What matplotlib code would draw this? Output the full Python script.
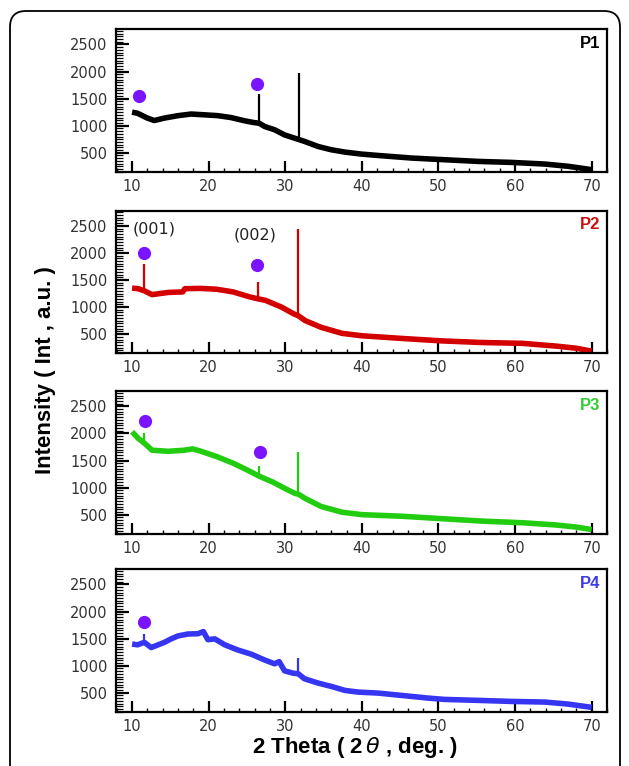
import numpy as np
import matplotlib.pyplot as plt
from matplotlib.patches import FancyBboxPatch
from matplotlib.ticker import MultipleLocator

# XRD traces (2theta in deg, intensity in a.u.), broad background of each sample
tt_p1 = [10.0, 10.7, 12.0, 12.9, 14.2, 16.0, 17.7, 19.5, 21.2, 22.9, 24.7, 25.8, 26.6,
         27.3, 28.6, 29.9, 31.2, 31.75, 32.5, 34.3, 36.0, 37.8, 39.9, 42.1, 46.5, 50.8,
         55.2, 59.5, 63.9, 66.9, 69.1, 70.0]
int_p1 = [1250, 1230, 1140, 1095, 1140, 1185, 1215, 1200, 1185, 1150, 1090, 1060, 1045,
          985, 925, 830, 770, 745, 710, 615, 555, 512, 476, 450, 402, 371,
          340, 322, 291, 250, 206, 187]

tt_p2 = [10.0, 10.8, 11.6, 12.6, 14.7, 16.6, 16.9, 18.9, 21.0, 23.2, 25.3, 26.5, 27.4,
         29.5, 31.1, 31.7, 32.6, 34.7, 37.4, 40.0, 45.3, 50.5, 55.8, 61.0, 65.3, 68.0,
         70.0]
int_p2 = [1350, 1340, 1300, 1230, 1270, 1280, 1340, 1345, 1330, 1280, 1190, 1150, 1125,
          1000, 875, 840, 750, 625, 515, 470, 420, 375, 345, 330, 280, 240,
          185]

tt_p3 = [10.0, 10.8, 11.6, 12.6, 14.7, 16.8, 17.9, 18.9, 21.0, 23.2, 25.3, 26.6, 28.4,
         30.0, 31.3, 31.7, 32.6, 34.7, 37.4, 40.0, 45.3, 50.5, 55.8, 61.0, 65.3, 68.0,
         70.0]
int_p3 = [2030, 1910, 1820, 1690, 1670, 1690, 1715, 1675, 1575, 1450, 1305, 1210, 1100,
          980, 890, 880, 800, 650, 545, 500, 470, 425, 380, 350, 310, 270,
          225]

tt_p4 = [10.0, 10.7, 11.6, 12.5, 13.4, 14.2, 15.1, 16.0, 17.3, 18.6, 19.3, 19.9, 20.8,
         22.1, 23.8, 25.6, 27.3, 28.6, 29.2, 29.9, 31.0, 31.7, 32.5, 34.3, 36.0, 37.8,
         39.5, 42.1, 44.3, 46.5, 48.6, 50.8, 55.2, 59.5, 63.9, 66.9, 69.1, 70.0]
int_p4 = [1400, 1385, 1430, 1335, 1385, 1430, 1495, 1550, 1585, 1590, 1630, 1480, 1495,
          1385, 1290, 1210, 1105, 1035, 1075, 905, 862, 850, 758, 678, 617, 543,
          512, 494, 463, 432, 402, 377, 359, 340, 328, 291, 248, 230]

# sharp reflections: position, base and top intensity
pk_p1 = [26.6, 31.75]
pk_p1_lo = [1045, 745]
pk_p1_hi = [1590, 1980]
pk_p2 = [11.6, 26.5, 31.7]
pk_p2_lo = [1300, 1150, 840]
pk_p2_hi = [1790, 1470, 2450]
pk_p3 = [11.6, 26.6, 31.7]
pk_p3_lo = [1820, 1210, 880]
pk_p3_hi = [2000, 1390, 1660]
pk_p4 = [11.6, 31.7]
pk_p4_lo = [1430, 850]
pk_p4_hi = [1580, 1140]

# phase markers (dots)
dot_p1 = ([10.85, 26.3], [1550, 1765])
dot_p2 = ([11.6, 26.3], [2000, 1780])
dot_p3 = ([11.7, 26.7], [2235, 1665])
dot_p4 = ([11.6], [1815])

panels = [
    ('P1', '#000000', '#000000', tt_p1, int_p1, pk_p1, pk_p1_lo, pk_p1_hi, dot_p1),
    ('P2', '#d40000', '#cc1111', tt_p2, int_p2, pk_p2, pk_p2_lo, pk_p2_hi, dot_p2),
    ('P3', '#22cc11', '#33cc33', tt_p3, int_p3, pk_p3, pk_p3_lo, pk_p3_hi, dot_p3),
    ('P4', '#3535f2', '#3b3bea', tt_p4, int_p4, pk_p4, pk_p4_lo, pk_p4_hi, dot_p4),
]

W, H = 629, 766
fig = plt.figure(figsize=(W / 100, H / 100), dpi=100)

# outer frame with rounded corners, open at the bottom
frame = FancyBboxPatch((0.10, -0.5), 6.10, 7.55 + 0.5,
                       boxstyle='round,pad=0,rounding_size=0.16',
                       transform=fig.dpi_scale_trans, facecolor='none',
                       edgecolor='black', lw=1.3, clip_on=False)
fig.patches.append(frame)

tops = [29.3, 210.7, 391.2, 569.3]
left, width, height = 116, 491, 142.4

for (name, col, lcol, tt, iy, pk, lo, hi, dots), top in zip(panels, tops):
    ax = fig.add_axes([left / W, 1 - (top + height) / H, width / W, height / H])
    ax.plot(tt, iy, color=col, lw=4.0, solid_joinstyle='round', solid_capstyle='butt')
    ax.vlines(pk, lo, hi, color=col, lw=1.6)
    ax.plot(dots[0], dots[1], 'o', color='#7a14ff', ms=9.5, mec='none')
    ax.text(0.986, 0.955, name, transform=ax.transAxes, ha='right', va='top',
            fontsize=12, fontweight='bold', color=lcol, family='Liberation Sans')

    ax.set_xlim(7.9, 72)
    ax.set_ylim(150, 2780)
    ax.set_xticks([10, 20, 30, 40, 50, 60, 70])
    ax.set_yticks([500, 1000, 1500, 2000, 2500])
    ax.xaxis.set_minor_locator(MultipleLocator(2))
    ax.yaxis.set_minor_locator(MultipleLocator(50))
    ax.tick_params(axis='x', which='major', direction='in', length=8, width=1.6,
                   pad=5, labelsize=10.5, labelcolor='#333333')
    ax.tick_params(axis='x', which='minor', direction='in', length=3, width=1.0)
    ax.tick_params(axis='y', which='major', direction='in', length=9, width=1.6,
                   pad=6, labelsize=10.5, labelcolor='#333333')
    ax.tick_params(axis='y', which='minor', direction='in', length=5, width=0.9)
    for sp in ax.spines.values():
        sp.set_linewidth(1.6)

    if name == 'P2':
        ax.text(12.9, 2440, '(001)', ha='center', va='center', fontsize=11.5, color='#222222')
        ax.text(26.1, 2330, '(002)', ha='center', va='center', fontsize=11.5, color='#222222')

fig.text(0.072, 0.517, 'Intensity ( Int , a.u. )', rotation=90, ha='center', va='center',
         fontsize=16, fontweight='bold', family='Liberation Sans')
fig.text(0.564, 0.0235, r'2 Theta ( 2$\,\theta$ , deg. )', ha='center', va='center',
         fontsize=16, fontweight='bold', family='Liberation Sans')

fig.savefig('out.png', dpi=100)
